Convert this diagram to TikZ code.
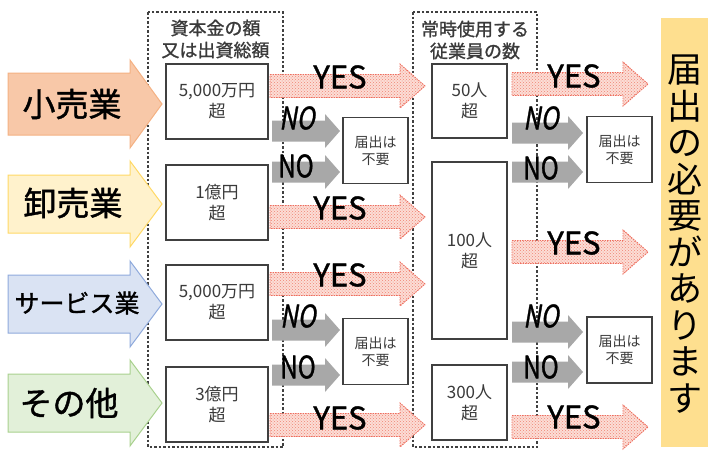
\documentclass[tikz,border=0pt]{standalone}
\usepackage{fontspec}
\setmainfont{Noto Sans CJK JP}
\newfontfamily\jpbold[FakeBold=1.2]{Noto Sans CJK JP}
\newfontfamily\jpslant[FakeSlant=0.22,FakeBold=1.2]{Noto Sans CJK JP}
\usetikzlibrary{patterns}
\definecolor{retailF}{HTML}{F8C8A8}
\definecolor{retailD}{HTML}{F4B183}
\definecolor{wholeF}{HTML}{FFF2CC}
\definecolor{wholeD}{HTML}{FFD966}
\definecolor{servF}{HTML}{DAE3F3}
\definecolor{servD}{HTML}{8FAADC}
\definecolor{otherF}{HTML}{E2F0D9}
\definecolor{otherD}{HTML}{A9D18E}
\definecolor{needF}{HTML}{FEDF8F}
\definecolor{yesF}{HTML}{FCDDD6}
\definecolor{yesDot}{HTML}{EF8474}
\definecolor{yesLine}{HTML}{EE6E5E}
\definecolor{noF}{HTML}{A8A8A8}
\definecolor{boxD}{HTML}{404040}
\definecolor{txt}{HTML}{3A3A3A}
\newcommand\barrow[7]{%
  \path[#1] (#2,{#4-#5}) -- ({#3-#7},{#4-#5}) -- ({#3-#7},{#4-#6}) -- (#3,#4)
    -- ({#3-#7},{#4+#6}) -- ({#3-#7},{#4+#5}) -- (#2,{#4+#5}) -- cycle;}
\tikzset{
  hdrbox/.style={draw=boxD, line width=1.5pt, dash pattern=on 2.5pt off 2pt},
  hdr/.style={align=center, text=txt, font=\jpbold\fontsize{18}{22}\selectfont},
  solidbox/.style={draw=boxD, line width=1.5pt, fill=white, inner sep=0pt, align=center, text=txt},
  capbox/.style={solidbox, minimum width=102pt, minimum height=75pt, font=\fontsize{17}{21}\selectfont},
  empbox/.style={solidbox, minimum width=75pt, font=\fontsize{17}{21}\selectfont},
  notbox/.style={solidbox, minimum width=65pt, minimum height=66pt, font=\fontsize{14}{17}\selectfont},
  retail/.style={fill=retailF, draw=retailD, line width=1pt},
  whole/.style={fill=wholeF, draw=wholeD, line width=1pt},
  serv/.style={fill=servF, draw=servD, line width=1pt},
  other/.style={fill=otherF, draw=otherD, line width=1pt},
  yesarrow/.style={preaction={fill=yesF}, pattern=crosshatch dots, pattern color=yesDot,
    draw=yesLine, line width=0.9pt, dash pattern=on 1.5pt off 1pt},
  noarrow/.style={fill=noF},
  lbl/.style={inner sep=0pt, font=\jpbold\fontsize{33}{36}\selectfont},
  yestxt/.style={inner sep=0pt, font=\jpbold\fontsize{31}{31}\selectfont},
  notxt/.style={inner sep=0pt, font=\jpbold\fontsize{31}{31}\selectfont},
  notxtit/.style={inner sep=0pt, font=\jpslant\fontsize{31}{31}\selectfont},
}
\begin{document}
\begin{tikzpicture}[x=1pt,y=-1pt]
\useasboundingbox (0,0) rectangle (708,450);
% header dashed boxes
\draw[hdrbox] (148,12) rectangle (283,447);
\draw[hdrbox] (413,12) rectangle (537,447);
\node[hdr] (h1) at (215.5,39) {資本金の額\\又は出資総額};
\node[hdr] (h2) at (475,40) {常時使用する\\従業員の数};
% right box
\fill[needF] (661,18) rectangle (708,447);
\node[align=center, inner sep=0pt, font=\fontsize{35}{36.5}\selectfont] (need) at (685,234)
  {届\\出\\の\\必\\要\\が\\あ\\り\\ま\\す};
% left arrows
\barrow{retail}{8}{162}{104}{31}{44}{32}
\barrow{whole}{8}{162}{204}{29}{43}{32}
\barrow{serv}{8}{162}{304}{29}{43}{32}
\barrow{other}{8}{162}{403}{29}{43}{32}
\node[lbl] (t1) at (72,104) {小売業};
\node[lbl] (t2) at (73,203) {卸売業};
\node[lbl, font=\jpbold\fontsize{25}{28}\selectfont] (t3) at (77,303) {サービス業};
\node[lbl] (t4) at (69,403) {その他};
% YES arrows
\barrow{yesarrow}{270}{425}{86}{11.5}{22}{25}
\barrow{yesarrow}{270}{425}{217}{11.5}{22}{25}
\barrow{yesarrow}{270}{425}{284}{11.5}{22}{25}
\barrow{yesarrow}{270}{425}{425}{11.5}{22}{25}
\barrow{yesarrow}{512}{648}{84}{11.5}{22}{25}
\barrow{yesarrow}{512}{648}{252}{11.5}{22}{25}
\barrow{yesarrow}{512}{648}{427}{11.5}{22}{25}
% NO arrows
\barrow{noarrow}{272}{340}{131}{10.5}{17}{15}
\barrow{noarrow}{272}{340}{172}{10.5}{17}{15}
\barrow{noarrow}{272}{340}{330}{10.5}{17}{15}
\barrow{noarrow}{272}{340}{375}{10.5}{17}{15}
\barrow{noarrow}{512}{583}{133}{10.5}{17}{15}
\barrow{noarrow}{512}{583}{172}{10.5}{17}{15}
\barrow{noarrow}{512}{583}{332}{10.5}{17}{15}
\barrow{noarrow}{512}{583}{372}{10.5}{17}{15}
% boxes
\node[capbox] (c1) at (217,101.5) {5,000万円\\超};
\node[capbox] (c2) at (217,202.5) {1億円\\超};
\node[capbox] (c3) at (217,302.5) {5,000万円\\超};
\node[capbox] (c4) at (217,404.5) {3億円\\超};
\node[empbox, minimum height=74pt] (e1) at (469.5,101) {50人\\超};
\node[empbox, minimum height=177pt] (e2) at (469.5,250.5) {100人\\超};
\node[empbox, minimum height=75pt] (e3) at (469.5,402.5) {300人\\超};
\node[notbox] (m1) at (375.5,150.5) {届出は\\不要};
\node[notbox] (m2) at (375.5,351.5) {届出は\\不要};
\node[notbox] (r1) at (619.5,149.5) {届出は\\不要};
\node[notbox] (r2) at (619.5,350) {届出は\\不要};
% YES labels
\node[yestxt] (y1) at (340,77) {YES};
\node[yestxt] (y2) at (340,208) {YES};
\node[yestxt] (y3) at (340,275) {YES};
\node[yestxt] (y4) at (340,418) {YES};
\node[yestxt] (y5) at (574,76) {YES};
\node[yestxt] (y6) at (574,243) {YES};
\node[yestxt] (y7) at (574,417) {YES};
% NO labels
\node[notxtit] (n1) at (297,118) {\scalebox{0.78}[1]{NO}};
\node[notxt] (n2) at (296,166) {\scalebox{0.78}[1]{NO}};
\node[notxtit] (n3) at (298,316) {\scalebox{0.78}[1]{NO}};
\node[notxt] (n4) at (298,367) {\scalebox{0.78}[1]{NO}};
\node[notxtit] (n5) at (541,118) {\scalebox{0.78}[1]{NO}};
\node[notxt] (n6) at (541,168) {\scalebox{0.78}[1]{NO}};
\node[notxtit] (n7) at (541,316) {\scalebox{0.78}[1]{NO}};
\node[notxt] (n8) at (541,367) {\scalebox{0.78}[1]{NO}};
\end{tikzpicture}
\end{document}
